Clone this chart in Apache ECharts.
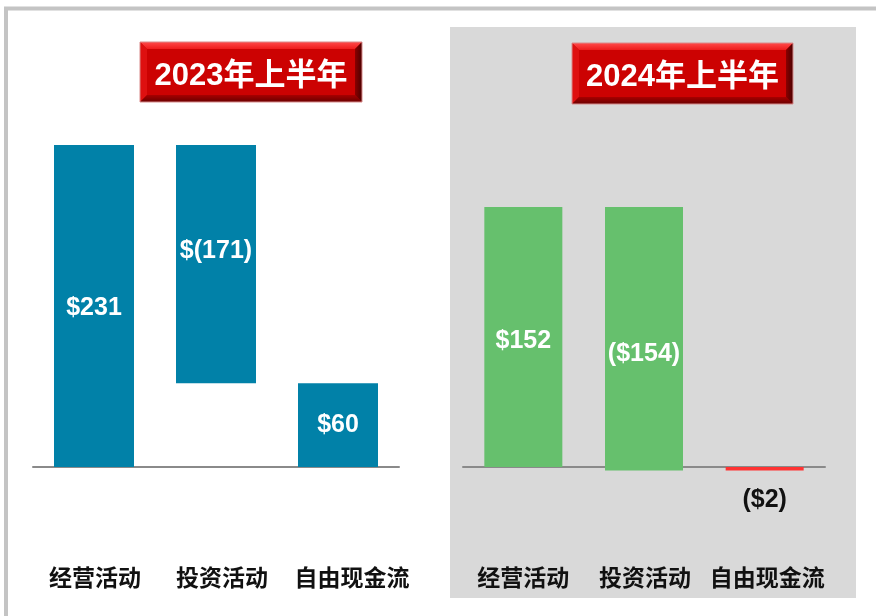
<!DOCTYPE html>
<html>
<head>
<meta charset="utf-8">
<script src="https://cdn.jsdelivr.net/npm/echarts@6/dist/echarts.min.js"></script>
<style>html,body{margin:0;padding:0;background:#fff;}#c{width:876px;height:616px;}</style>
</head>
<body>
<div id="c"></div>
<script>
const categories = ['经营活动', '投资活动', '自由现金流'];
const periods = ['2023年上半年', '2024年上半年'];
const values2023 = [231, -171, 60];
const values2024 = [152, -154, -2];
const labels2023 = ['$231', '$(171)', '$60'];
const labels2024 = ['$152', '($154)', '($2)'];

const FONT = "'Liberation Sans', 'Noto Sans CJK SC', sans-serif";
const BLUE = '#0181a8';
const GREEN = '#66c06d';
const RED = '#ff3333';

function waterfall(vals) {
  let cum = 0;
  const base = [], size = [];
  vals.forEach((v, i) => {
    if (i === vals.length - 1) { base.push(0); size.push(v); }
    else { const next = cum + v; base.push(Math.min(cum, next)); size.push(Math.abs(v)); cum = next; }
  });
  return { base, size };
}

const w1 = waterfall(values2023);
const w2 = waterfall(values2024);

// label placement tweaks (style only)
const labelOffsets1 = [[0, 2], [0, -13], [0, 0]];
const labelOffsets2 = [[0, 4], [0, 15], [0, 0]];

function barData(w, vals, texts, offsets, color) {
  return w.size.map((s, i) => {
    const isNegTotal = i === vals.length - 1 && vals[i] < 0;
    return {
      value: s,
      itemStyle: { color: isNegTotal ? RED : color },
      label: isNegTotal ? {
        show: true, position: 'bottom', distance: 17, color: '#111',
        formatter: texts[i]
      } : {
        show: true, position: 'inside', offset: offsets[i], color: '#fff',
        formatter: texts[i]
      }
    };
  });
}

function bevelBox(x, y, w, h, text) {
  const b = 7;
  return {
    type: 'group', z: 20,
    children: [
      { type: 'rect', shape: { x: x, y: y, width: w, height: h }, style: { fill: '#c20000' } },
      { type: 'polygon', shape: { points: [[x, y], [x + w, y], [x + w - b, y + b], [x + b, y + b]] },
        style: { fill: new echarts.graphic.LinearGradient(0, 0, 0, 1, [{ offset: 0, color: '#ff4a4a' }, { offset: 1, color: '#ee1c1c' }]) } },
      { type: 'polygon', shape: { points: [[x, y], [x + b, y + b], [x + b, y + h - b], [x, y + h]] },
        style: { fill: '#de1010' } },
      { type: 'polygon', shape: { points: [[x, y + h], [x + b, y + h - b], [x + w - b, y + h - b], [x + w, y + h]] },
        style: { fill: new echarts.graphic.LinearGradient(0, 0, 0, 1, [{ offset: 0, color: '#a80000' }, { offset: 1, color: '#6a0000' }]) } },
      { type: 'polygon', shape: { points: [[x + w, y], [x + w, y + h], [x + w - b, y + h - b], [x + w - b, y + b]] },
        style: { fill: new echarts.graphic.LinearGradient(0, 0, 1, 0, [{ offset: 0, color: '#8a0000' }, { offset: 1, color: '#4a0000' }]) } },
      { type: 'rect', shape: { x: x + b, y: y + b, width: w - 2 * b, height: h - 2 * b }, style: { fill: '#cc0202' } },
      { type: 'rect', shape: { x: x, y: y, width: w, height: h }, style: { fill: 'none', stroke: '#d88a8a', lineWidth: 1 } },
      { type: 'text', style: { text: text, x: x + w / 2, y: y + h / 2 + 4, align: 'center', verticalAlign: 'middle',
          fill: '#ffffff', font: "bold 31px " + FONT } }
    ]
  };
}

function xAxisCfg(gridIndex, pads, margin) {
  const rich = {};
  pads.forEach((p, i) => { rich['c' + i] = { fontSize: 23, fontWeight: 'bold', fontFamily: FONT, color: '#111', padding: [0, 0, 0, p] }; });
  return {
    type: 'category', gridIndex: gridIndex, data: categories,
    axisLine: { onZero: true, lineStyle: { color: '#8a8a8a', width: 2 } },
    axisTick: { show: false },
    axisLabel: {
      interval: 0, hideOverlap: false,
      margin: margin, fontSize: 23, fontWeight: 'bold', fontFamily: FONT, color: '#111',
      formatter: (v, i) => '{c' + i + '|' + v + '}', rich: rich
    },
    splitLine: { show: false }
  };
}

const labelStyle = { fontSize: 25, fontWeight: 'bold', fontFamily: FONT };

const chart = echarts.init(document.getElementById('c'), null, { renderer: 'canvas' });
chart.setOption({
  backgroundColor: '#ffffff',
  animation: false,
  graphic: [
    { type: 'rect', z: -10, silent: true, shape: { x: 6, y: 8.5, width: 900, height: 700 }, style: { fill: '#ffffff', stroke: '#c4c4c4', lineWidth: 4 } },
    { type: 'rect', z: -9, silent: true, shape: { x: 450, y: 27, width: 406, height: 571 }, style: { fill: '#d9d9d9' } },
    bevelBox(140, 42, 222, 60, periods[0]),
    bevelBox(572, 43, 221, 61, periods[1])
  ],
  grid: [
    { left: 33, width: 366, top: 118.5, height: 376.4, containLabel: false, outerBoundsMode: 'none' },
    { left: 463, width: 362, top: 39.4, height: 461.8, containLabel: false, outerBoundsMode: 'none' }
  ],
  xAxis: [xAxisCfg(0, [2, 12, 28], 73), xAxisCfg(1, [0, 2, 5], 67)],
  yAxis: [
    { type: 'value', gridIndex: 0, min: -20, max: 250, show: false, splitLine: { show: false } },
    { type: 'value', gridIndex: 1, min: -20, max: 250, show: false, splitLine: { show: false } }
  ],
  series: [
    { type: 'bar', xAxisIndex: 0, yAxisIndex: 0, stack: 'a', stackStrategy: 'all', barWidth: 80,
      itemStyle: { color: 'transparent' }, data: w1.base, silent: true },
    { type: 'bar', xAxisIndex: 0, yAxisIndex: 0, stack: 'a', stackStrategy: 'all', barWidth: 80,
      label: labelStyle, data: barData(w1, values2023, labels2023, labelOffsets1, BLUE) },
    { type: 'bar', xAxisIndex: 1, yAxisIndex: 1, stack: 'b', stackStrategy: 'all', barWidth: 78,
      itemStyle: { color: 'transparent' }, data: w2.base, silent: true },
    { type: 'bar', xAxisIndex: 1, yAxisIndex: 1, stack: 'b', stackStrategy: 'all', barWidth: 78,
      label: labelStyle, data: barData(w2, values2024, labels2024, labelOffsets2, GREEN) }
  ]
});
</script>
</body>
</html>
